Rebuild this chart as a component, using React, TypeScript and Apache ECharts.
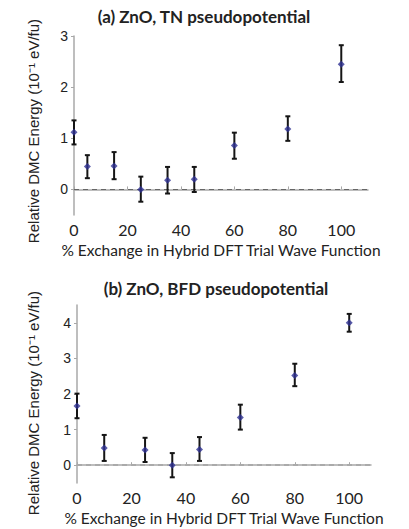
import React, { useEffect, useRef } from "react";
import * as echarts from "echarts";

// Panel (a): ZnO, TN pseudopotential
const xA = [0, 5, 15, 25, 35, 45, 60, 80, 100];
const yA = [1.12, 0.45, 0.46, 0.0, 0.18, 0.2, 0.86, 1.18, 2.45];
const loA = [0.88, 0.22, 0.2, -0.24, -0.08, -0.05, 0.6, 0.95, 2.1];
const hiA = [1.35, 0.67, 0.73, 0.25, 0.44, 0.44, 1.11, 1.43, 2.82];

// Panel (b): ZnO, BFD pseudopotential
const xB = [0, 10, 25, 35, 45, 60, 80, 100];
const yB = [1.66, 0.48, 0.43, 0.0, 0.44, 1.34, 2.52, 4.0];
const loB = [1.32, 0.12, 0.09, -0.34, 0.12, 1.0, 2.22, 3.75];
const hiB = [2.01, 0.85, 0.77, 0.34, 0.79, 1.7, 2.85, 4.25];

const xTicks = [0, 20, 40, 60, 80, 100];
const yTicksA = [0, 1, 2, 3];
const yTicksB = [0, 1, 2, 3, 4];

const titleA = "(a) ZnO, TN pseudopotential";
const titleB = "(b) ZnO, BFD pseudopotential";
const yName = "Relative DMC Energy (10\u207B\u00B9 eV/fu)";
const xName = "% Exchange in Hybrid DFT Trial Wave Function";

const ARIAL = "'Liberation Sans', Arial, sans-serif";
const CALIBRI = "Lato, 'Open Sans', sans-serif";

function makeAxes(gridIndex: number, xMax: number, yMax: number, yTicks: number[]) {
  const axisLine = { show: true, lineStyle: { color: "#a8a8a8", width: 1.5 } };
  const xAxis = {
    type: "value",
    gridIndex,
    min: 0,
    max: xMax,
    splitLine: { show: false },
    axisLine,
    axisTick: {
      show: true,
      inside: true,
      customValues: xTicks,
      length: 3,
      lineStyle: { color: "#a8a8a8", width: 1 },
    },
    axisLabel: {
      customValues: xTicks,
      fontFamily: CALIBRI,
      fontSize: 16,
      color: "#222",
      margin: 6,
    },
    name: xName,
    nameLocation: "middle",
    nameGap: 27,
    nameTextStyle: { fontFamily: CALIBRI, fontSize: 15.5, color: "#222" },
  };
  const yAxis = {
    type: "value",
    gridIndex,
    min: -0.5,
    max: yMax,
    splitLine: { show: false },
    axisLine: { ...axisLine, onZero: false },
    axisTick: {
      show: true,
      customValues: yTicks,
      length: 3,
      lineStyle: { color: "#a8a8a8", width: 1 },
    },
    axisLabel: {
      customValues: yTicks,
      fontFamily: ARIAL,
      fontSize: 14,
      color: "#222",
      margin: 6,
    },
  };
  return { xAxis, yAxis };
}

function errData(xs: number[], lo: number[], hi: number[]) {
  return xs.map((x, i) => [x, lo[i], hi[i]]);
}

function errSeries(idx: number, data: number[][]) {
  return {
    type: "custom",
    xAxisIndex: idx,
    yAxisIndex: idx,
    silent: true,
    data,
    renderItem: (params: any, api: any) => {
      const x = api.value(0);
      const lo = api.coord([x, api.value(1)]);
      const hi = api.coord([x, api.value(2)]);
      const cap = 2.5;
      const style = { stroke: "#151515", lineWidth: 2 };
      return {
        type: "group",
        children: [
          { type: "line", shape: { x1: lo[0], y1: lo[1], x2: hi[0], y2: hi[1] }, style },
          { type: "line", shape: { x1: lo[0] - cap, y1: lo[1], x2: lo[0] + cap, y2: lo[1] }, style },
          { type: "line", shape: { x1: hi[0] - cap, y1: hi[1], x2: hi[0] + cap, y2: hi[1] }, style },
        ],
      };
    },
  };
}

function pointSeries(idx: number, xs: number[], ys: number[], dashColor: string, dashWidth: number) {
  return {
    type: "scatter",
    xAxisIndex: idx,
    yAxisIndex: idx,
    symbol: "diamond",
    symbolSize: 7,
    itemStyle: { color: "#2e3192" },
    data: xs.map((x, i) => [x, ys[i]]),
    markLine: {
      silent: true,
      symbol: "none",
      label: { show: false },
      lineStyle: { type: [5, 4], color: dashColor, width: dashWidth },
      data: [{ yAxis: 0 }],
      z: 1,
    },
  };
}

export default function App() {
  const ref = useRef<HTMLDivElement>(null);
  useEffect(() => {
    if (!ref.current) return;
    const chart = echarts.init(ref.current, null, { renderer: "svg" });
    const a = makeAxes(0, 110, 3, yTicksA);
    const b = makeAxes(1, 108, 4.5, yTicksB);
    const titleFont = "bold 17px " + CALIBRI;
    const yNameFont = "15px " + ARIAL;
    chart.setOption({
      animation: false,
      backgroundColor: "#ffffff",
      grid: [
        { left: 74, top: 36, width: 294, height: 179 },
        { left: 77, top: 305, width: 294, height: 178 },
      ],
      xAxis: [a.xAxis, b.xAxis],
      yAxis: [a.yAxis, b.yAxis],
      series: [
        errSeries(0, errData(xA, loA, hiA)),
        pointSeries(0, xA, yA, "#666", 1),
        errSeries(1, errData(xB, loB, hiB)),
        pointSeries(1, xB, yB, "#aaa", 2),
      ],
      graphic: [
        {
          type: "text",
          x: 204,
          y: 16,
          style: { text: titleA, font: titleFont, fill: "#222", textAlign: "center", textVerticalAlign: "middle" },
        },
        {
          type: "text",
          x: 216,
          y: 288,
          style: { text: titleB, font: titleFont, fill: "#222", textAlign: "center", textVerticalAlign: "middle" },
        },
        {
          type: "text",
          x: 33,
          y: 131,
          rotation: Math.PI / 2,
          style: { text: yName, font: yNameFont, fill: "#222", textAlign: "center", textVerticalAlign: "middle" },
        },
        {
          type: "text",
          x: 33,
          y: 403,
          rotation: Math.PI / 2,
          style: { text: yName, font: yNameFont, fill: "#222", textAlign: "center", textVerticalAlign: "middle" },
        },
      ],
    });
    return () => chart.dispose();
  }, []);
  return <div ref={ref} style={{ position: "fixed", left: 0, top: 0, width: 409, height: 529 }} />;
}
